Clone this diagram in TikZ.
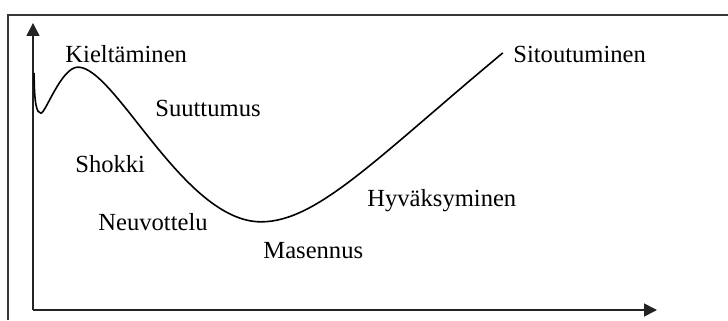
\documentclass[tikz,border=0pt]{standalone}
\usepackage{fontspec}
\setmainfont{Liberation Serif}
\usepackage{xcolor}
\usepackage{tikz}
\usetikzlibrary{arrows.meta, positioning}
\definecolor{framegray}{RGB}{55, 55, 55}
\definecolor{axisgray}{RGB}{35, 35, 35}
\tikzset{
    phase/.style={anchor=base west, inner sep=0pt, font=\fontsize{12.3}{14.5}\selectfont},
    axisline/.style={line width=0.8pt, axisgray, -{Triangle[length=6.5pt, width=6.5pt]}},
}

\begin{document}
\begin{tikzpicture}
    \useasboundingbox (-0.580,-0.176) rectangle (12.219,5.450);

    % Frame
    \draw[line width=0.8pt, framegray] (-0.440,-0.176) -- (-0.440,5.187) -- (12.219,5.187);

    % Axes
    \coordinate (origin) at (0,0);
    \coordinate (ytip) at (0,5.046);
    \coordinate (xtip) at (10.971,0);
    \draw[axisline] (origin) -- (ytip);
    \draw[axisline] (origin) -- (xtip);

    % Curve
    \coordinate (start) at (0.02,4.17);
    \coordinate (dip) at (0.14,3.46);
    \coordinate (peak) at (0.79,4.27);
    \coordinate (low) at (4.01,1.55);
    \coordinate (end) at (8.26,4.52);
    \draw[line width=0.8pt, black]
        (start) .. controls (0.02,3.60) and (0.07,3.46) .. (dip)
        .. controls (0.22,3.46) and (0.50,4.27) .. (peak)
        .. controls (1.45,4.27) and (2.65,1.55) .. (low)
        .. controls (5.00,1.55) and (6.06,2.69) .. (end);

    % Phases
    \node[phase] (kielt) at (0.563,4.360) {Kieltäminen};
    \node[phase] (suutt) at (2.145,3.394) {Suuttumus};
    \node[phase] (shokki) at (0.738,2.409) {Shokki};
    \node[phase] (neuvo) at (1.143,1.389) {Neuvottelu};
    \node[phase] (masen) at (4.044,0.897) {Masennus};
    \node[phase] (hyvak) at (5.872,1.811) {Hyväksyminen};
    \node[phase] (sitou) at (8.439,4.360) {Sitoutuminen};
\end{tikzpicture}
\end{document}
